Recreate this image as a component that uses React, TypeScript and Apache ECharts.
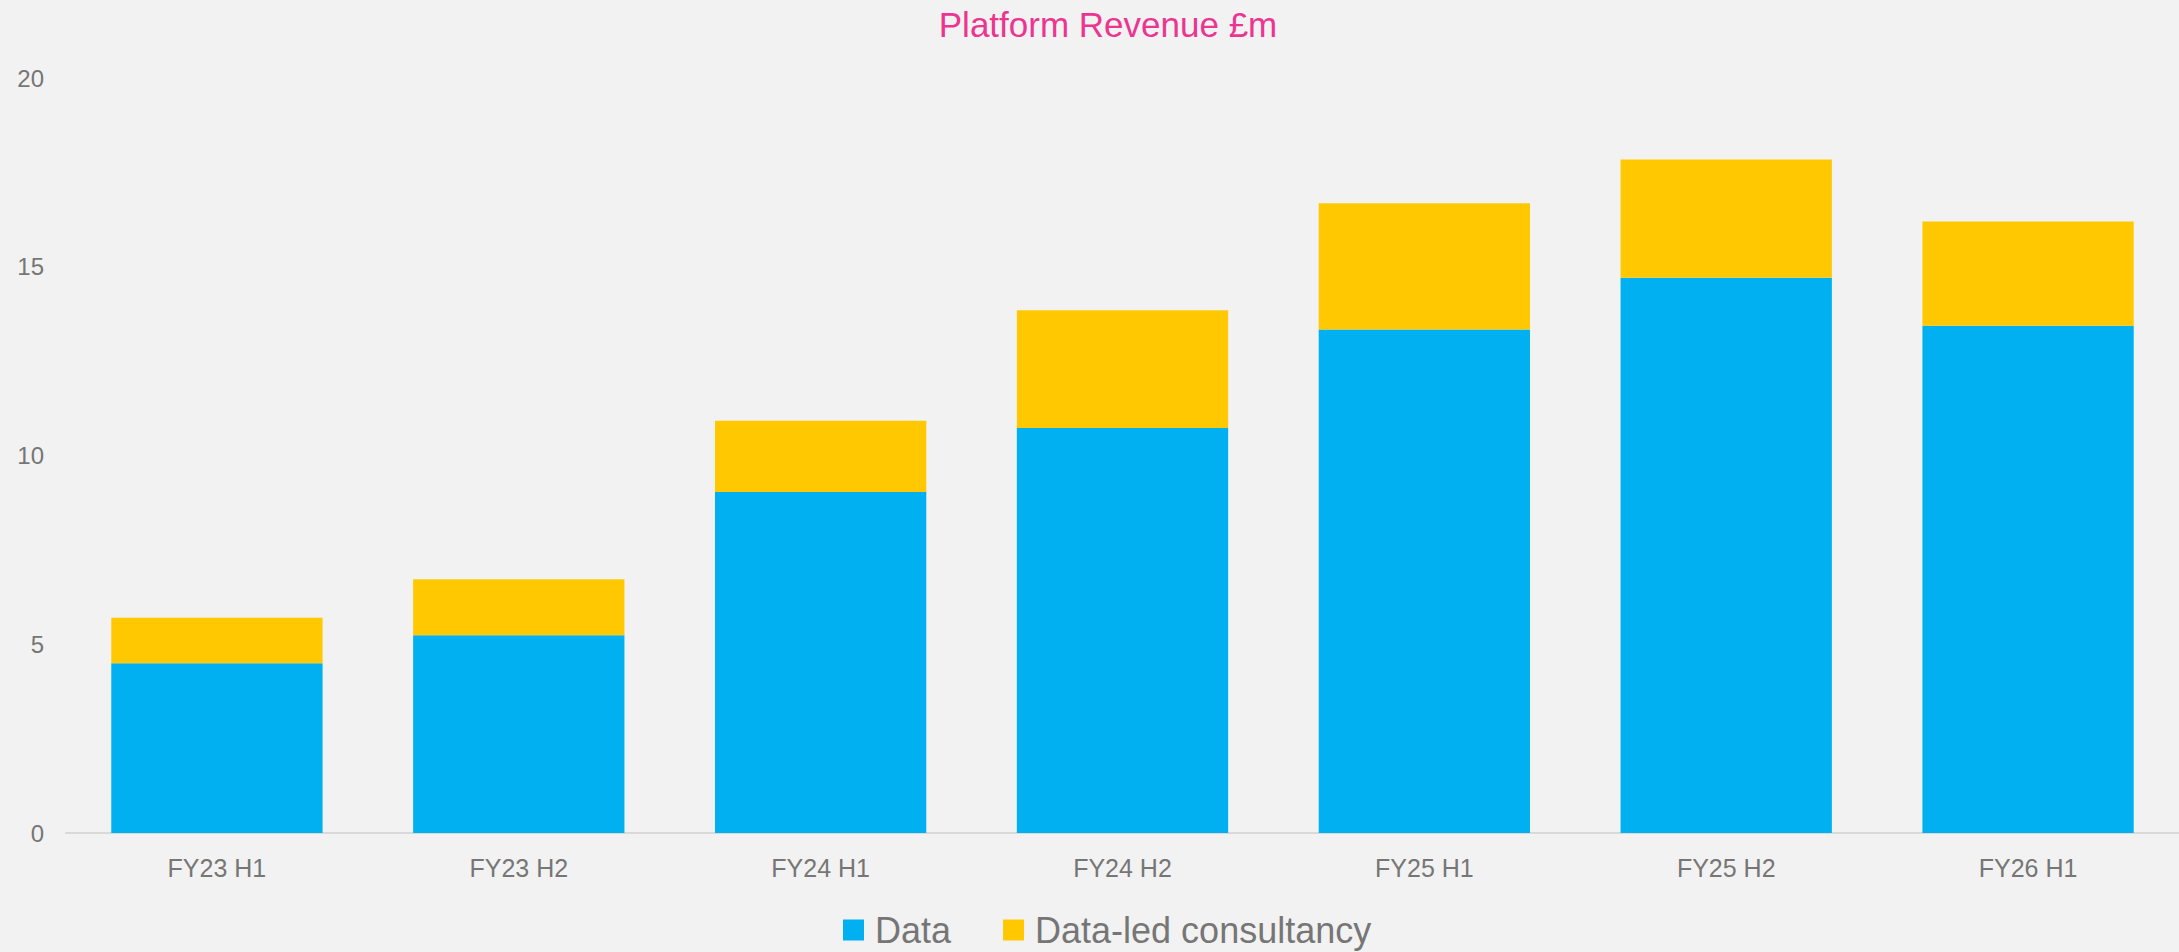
import React, { useEffect, useRef } from "react";
import * as echarts from "echarts";

const categories = ["FY23 H1", "FY23 H2", "FY24 H1", "FY24 H2", "FY25 H1", "FY25 H2", "FY26 H1"];
const dataValues = [4.5, 5.24, 9.03, 10.73, 13.34, 14.71, 13.44];
const consultancyValues = [1.2, 1.48, 1.89, 3.12, 3.34, 3.13, 2.76];
const yTicks = { min: 0, max: 20, interval: 5 };

const FONT = "'Liberation Sans', Arial, sans-serif";
const GREY = "#767676";

export default function App() {
  const ref = useRef<HTMLDivElement>(null);
  useEffect(() => {
    if (!ref.current) return;
    const chart = echarts.init(ref.current, undefined, { renderer: "svg" });
    chart.setOption({
      animation: false,
      backgroundColor: "#F2F2F2",
      title: {
        text: "Platform Revenue £m",
        left: 1103,
        textAlign: "center",
        top: 2,
        textStyle: { color: "#EC3590", fontSize: 35, fontWeight: "normal", fontFamily: FONT },
      },
      legend: {
        left: 843,
        top: 912,
        padding: 0,
        itemWidth: 21,
        itemHeight: 21,
        itemGap: 52,
        icon: "rect",
        textStyle: { color: GREY, fontSize: 36, fontFamily: FONT, padding: [0, 0, 0, 6] },
        data: ["Data", "Data-led consultancy"],
      },
      grid: { left: 66, right: 0, top: 78, bottom: 119, containLabel: false },
      xAxis: {
        type: "category",
        data: categories,
        axisLine: { show: true, lineStyle: { color: "#D9D9D9", width: 2 } },
        axisTick: { show: false },
        axisLabel: { color: GREY, fontSize: 25, fontFamily: FONT, margin: 22 },
      },
      yAxis: {
        type: "value",
        min: yTicks.min,
        max: yTicks.max,
        interval: yTicks.interval,
        axisLine: { show: false },
        axisTick: { show: false },
        splitLine: { show: false },
        axisLabel: { color: GREY, fontSize: 24, fontFamily: FONT, margin: 22 },
      },
      series: [
        {
          name: "Data",
          type: "bar",
          stack: "total",
          data: dataValues,
          barCategoryGap: "30%",
          itemStyle: { color: "#00B0F0" },
        },
        {
          name: "Data-led consultancy",
          type: "bar",
          stack: "total",
          data: consultancyValues,
          barCategoryGap: "30%",
          itemStyle: { color: "#FFC800" },
        },
      ],
    });
    return () => chart.dispose();
  }, []);
  return (
    <div
      ref={ref}
      style={{ position: "fixed", left: 0, top: 0, width: 2179, height: 952 }}
    />
  );
}
